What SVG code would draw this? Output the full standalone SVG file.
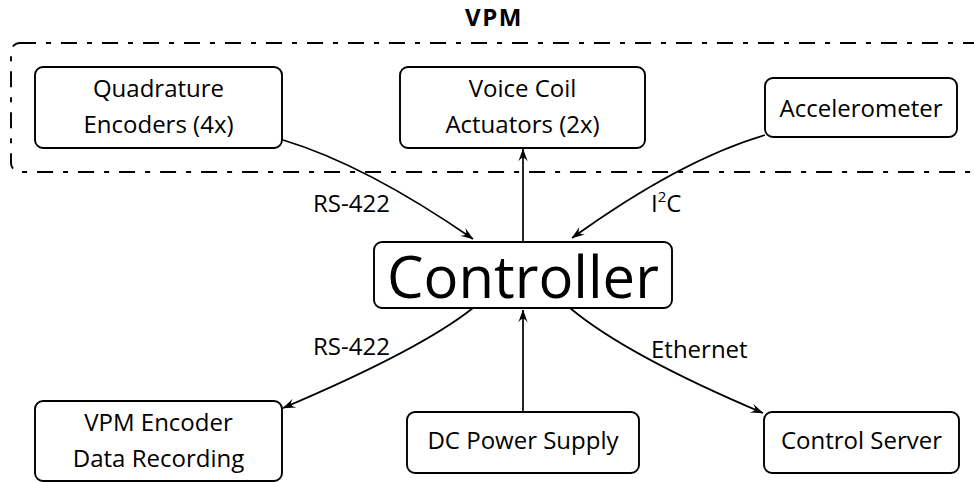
<svg xmlns="http://www.w3.org/2000/svg" width="974" height="482" viewBox="0 0 974 482">
<style>
text{font-family:"Open Sans","Noto Sans","DejaVu Sans",sans-serif;fill:#000;}
.n{font-size:24px;text-anchor:middle;}
.lbl{font-size:24px;}
.box{fill:#fff;stroke:#000;stroke-width:1.9;}
.edge{fill:none;stroke:#000;stroke-width:1.7;marker-end:url(#arr);}
.grp{fill:none;stroke:#000;stroke-width:1.9;stroke-dasharray:16 10 5 10;}
</style>
<defs>
<marker id="arr" markerUnits="userSpaceOnUse" viewBox="0 0 13 10" markerWidth="13" markerHeight="10" refX="12.5" refY="5" orient="auto">
<path d="M0,0.3 Q4.5,4 3.5,5 Q4.5,6 0,9.7 L13,5 Z" fill="#000"/>
</marker>
</defs>
<g id="vpm-group">
<rect class="grp" x="11" y="43" width="990" height="129" rx="9"/>
<text x="494" y="26" style="font-size:24px;font-weight:bold;letter-spacing:1.5px" text-anchor="middle">VPM</text>
</g>
<g id="connectors">
<path class="edge" d="M283,140 Q366,165 473,239"/>
<path class="edge" d="M523,242 L523,149"/>
<path class="edge" d="M765,135 Q680,160 572,238"/>
<path class="edge" d="M473,308 Q420,350 283,408"/>
<path class="edge" d="M523,412 L523,310"/>
<path class="edge" d="M570,308 Q626,355 763,413"/>
<text class="lbl" x="313" y="212">RS-422</text>
<text class="lbl" x="651" y="212">I<tspan dy="-10" font-size="15">2</tspan><tspan dy="10">C</tspan></text>
<text class="lbl" x="313" y="355">RS-422</text>
<text class="lbl" x="651" y="358">Ethernet</text>
</g>
<g id="quadrature">
<rect class="box" x="35" y="67" width="247" height="81" rx="8"/>
<text class="n" x="158.5" y="97">Quadrature</text>
<text class="n" x="158.5" y="133">Encoders (4x)</text>
</g>
<g id="voicecoil">
<rect class="box" x="400" y="67" width="245" height="81" rx="8"/>
<text class="n" x="522.5" y="97">Voice Coil</text>
<text class="n" x="522.5" y="133">Actuators (2x)</text>
</g>
<g id="accelerometer">
<rect class="box" x="765" y="78" width="192" height="59" rx="8"/>
<text class="n" x="861" y="117">Accelerometer</text>
</g>
<g id="controller">
<rect class="box" x="374" y="242" width="298" height="66" rx="8"/>
<text class="n" x="523" y="298" style="font-size:58px">Controller</text>
</g>
<g id="encoder-recording">
<rect class="box" x="35" y="401" width="247" height="80" rx="8"/>
<text class="n" x="158.5" y="431">VPM Encoder</text>
<text class="n" x="158.5" y="467">Data Recording</text>
</g>
<g id="power">
<rect class="box" x="407" y="412" width="232" height="61" rx="8"/>
<text class="n" x="523" y="449">DC Power Supply</text>
</g>
<g id="server">
<rect class="box" x="764" y="412" width="195" height="61" rx="8"/>
<text class="n" x="861.5" y="449">Control Server</text>
</g>
</svg>
